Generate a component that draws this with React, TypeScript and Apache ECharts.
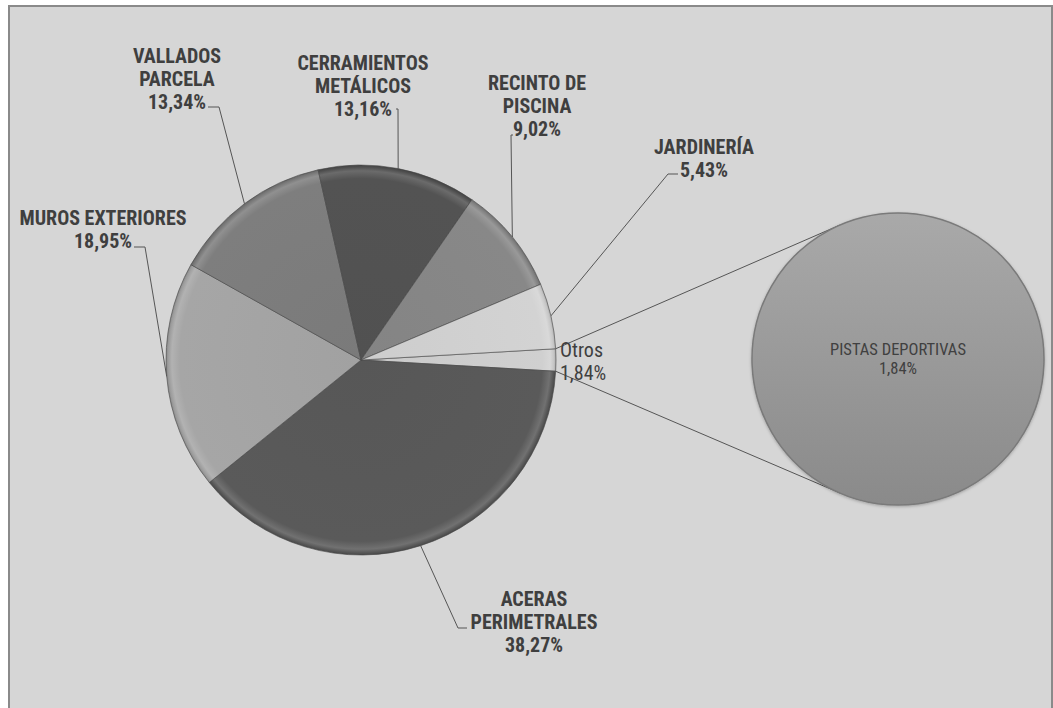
import React, { useEffect, useRef } from 'react';
import * as echarts from 'echarts';

// ---- data ----
const categories = [
  'Otros',
  'ACERAS\nPERIMETRALES',
  'MUROS EXTERIORES',
  'VALLADOS\nPARCELA',
  'CERRAMIENTOS\nMETÁLICOS',
  'RECINTO DE\nPISCINA',
  'JARDINERÍA',
];
const values = [1.84, 38.27, 18.95, 13.34, 13.16, 9.02, 5.43];
const secondaryCategories = ['PISTAS DEPORTIVAS'];
const secondaryValues = [1.84];

// ---- styles / layout ----
const sliceColors = ['#d0d0d0', '#5a5a5a', '#a6a6a6', '#7e7e7e', '#535353', '#888888', '#d3d3d3'];
const W = 1053;
const H = 708;
const C1 = [361, 360];
const R1 = 195;
const C2 = [898, 359];
const R2 = 146;
const FONT = '"Liberation Sans Narrow", "Arial Narrow", "Roboto Condensed", "Liberation Sans", sans-serif';
const TEXT = '#3f3f3f';

// label anchor (text block centre) and label-line bend/end points, per slice
const labelPos: Array<[number, number]> = [
  [560, 361],
  [534, 622],
  [103, 229],
  [177, 79],
  [363, 86],
  [537, 106],
  [704, 158],
];
const labelBends: Array<Array<[number, number]>> = [
  [],
  [[458, 628], [467, 628]],
  [[145, 247], [134, 247]],
  [[219, 107], [208, 107]],
  [[398, 109], [396, 109]],
  [[511, 135], [513, 135]],
  [[668, 174], [678, 174]],
];

const fmt = (v: number) => v.toFixed(2).replace('.', ',') + '%';

function mix(hex: string, target: number, t: number) {
  const n = parseInt(hex.slice(1), 16);
  const r = (n >> 16) & 255, g = (n >> 8) & 255, b = n & 255;
  const f = (c: number) => Math.round(c + (target - c) * t);
  return `rgb(${f(r)},${f(g)},${f(b)})`;
}

function bevel(hex: string, cx: number, cy: number, r: number) {
  return {
    type: 'radial',
    x: cx,
    y: cy,
    r: r,
    global: true,
    colorStops: [
      { offset: 0, color: mix(hex, 0, 0.03) },
      { offset: 0.93, color: hex },
      { offset: 0.97, color: mix(hex, 255, 0.14) },
      { offset: 0.99, color: mix(hex, 0, 0.06) },
      { offset: 1, color: mix(hex, 0, 0.2) },
    ],
  };
}

export default function App() {
  const ref = useRef<HTMLDivElement>(null);

  useEffect(() => {
    if (!ref.current) return;
    const chart = echarts.init(ref.current, undefined, { renderer: 'svg' });

    const total = values.reduce((a, b) => a + b, 0);
    const half = (values[0] / total) * 180; // half angle of "Otros" slice, degrees
    const hr = (half * Math.PI) / 180;
    const p1 = [C1[0] + R1 * Math.cos(hr), C1[1] - R1 * Math.sin(hr)];
    const p2 = [C1[0] + R1 * Math.cos(hr), C1[1] + R1 * Math.sin(hr)];
    const tangent = (p: number[], upper: boolean) => {
      const dx = p[0] - C2[0];
      const dy = -(p[1] - C2[1]);
      const d = Math.sqrt(dx * dx + dy * dy);
      const base = Math.atan2(dy, dx);
      const off = Math.acos(R2 / d);
      const a = upper ? base - off : base + off;
      return [C2[0] + R2 * Math.cos(a), C2[1] - R2 * Math.sin(a)];
    };
    const t1 = tangent(p1, true);
    const t2 = tangent(p2, false);

    const mainData = categories.map((name, i) => ({
      name,
      value: values[i],
      itemStyle: { color: bevel(sliceColors[i], C1[0], C1[1], R1) },
      label: i === 0
        ? { fontWeight: 'normal', align: 'left' }
        : undefined,
      labelLine: { show: i !== 0 },
    }));

    chart.setOption({
      animation: false,
      backgroundColor: '#ffffff',
      graphic: [
        {
          type: 'rect',
          z: -10,
          silent: true,
          shape: { x: 9, y: 6, width: 1043, height: 720 },
          style: { fill: '#d6d6d6', stroke: '#8a8a8a', lineWidth: 2 },
        },
        {
          type: 'line',
          z: 1,
          silent: true,
          shape: { x1: p1[0], y1: p1[1], x2: t1[0], y2: t1[1] },
          style: { stroke: '#555555', lineWidth: 1 },
        },
        {
          type: 'line',
          z: 1,
          silent: true,
          shape: { x1: p2[0], y1: p2[1], x2: t2[0], y2: t2[1] },
          style: { stroke: '#555555', lineWidth: 1 },
        },
      ],
      series: [
        {
          type: 'pie',
          center: C1,
          radius: R1,
          startAngle: half,
          clockwise: true,
          avoidLabelOverlap: false,
          itemStyle: { borderColor: 'rgba(70,70,70,0.6)', borderWidth: 1 },
          emphasis: { disabled: true },
          label: {
            show: true,
            position: 'outside',
            formatter: (p: any) => `${p.name}\n${fmt(p.value)}`,
            fontFamily: FONT,
            fontSize: 20,
            fontWeight: 'bold',
            lineHeight: 23,
            color: TEXT,
            align: 'center',
          },
          labelLine: {
            show: true,
            length: 10,
            length2: 10,
            lineStyle: { color: '#555555', width: 1 },
          },
          labelLayout: (params: any) => {
            const i = params.dataIndex;
            const pos = labelPos[i];
            const edge = params.labelLinePoints ? params.labelLinePoints[0] : null;
            const out: any = {
              x: pos[0],
              y: pos[1],
              align: i === 0 ? 'left' : 'center',
              verticalAlign: 'middle',
            };
            if (edge && labelBends[i].length) {
              out.labelLinePoints = [edge, ...labelBends[i]];
            }
            return out;
          },
          data: mainData,
        },
        {
          type: 'pie',
          center: C2,
          radius: R2,
          emphasis: { disabled: true },
          itemStyle: {
            color: {
              type: 'linear',
              x: 0, y: 0, x2: 0, y2: 1,
              colorStops: [
                { offset: 0, color: '#a9a9a9' },
                { offset: 1, color: '#8a8a8a' },
              ],
            },
            borderColor: '#7a7a7a',
            borderWidth: 1.5,
            shadowColor: 'rgba(0,0,0,0.25)',
            shadowBlur: 3,
            shadowOffsetY: 1,
          },
          label: {
            show: true,
            position: 'center',
            formatter: (p: any) => `${p.name}\n${fmt(p.value)}`,
            fontFamily: FONT,
            fontSize: 16.5,
            lineHeight: 19,
            color: '#404040',
          },
          labelLine: { show: false },
          data: secondaryCategories.map((name, i) => ({ name, value: secondaryValues[i] })),
        },
      ],
    });

    return () => chart.dispose();
  }, []);

  return (
    <div
      ref={ref}
      style={{ position: 'fixed', left: 0, top: 0, width: W, height: H, background: '#fff' }}
    />
  );
}
